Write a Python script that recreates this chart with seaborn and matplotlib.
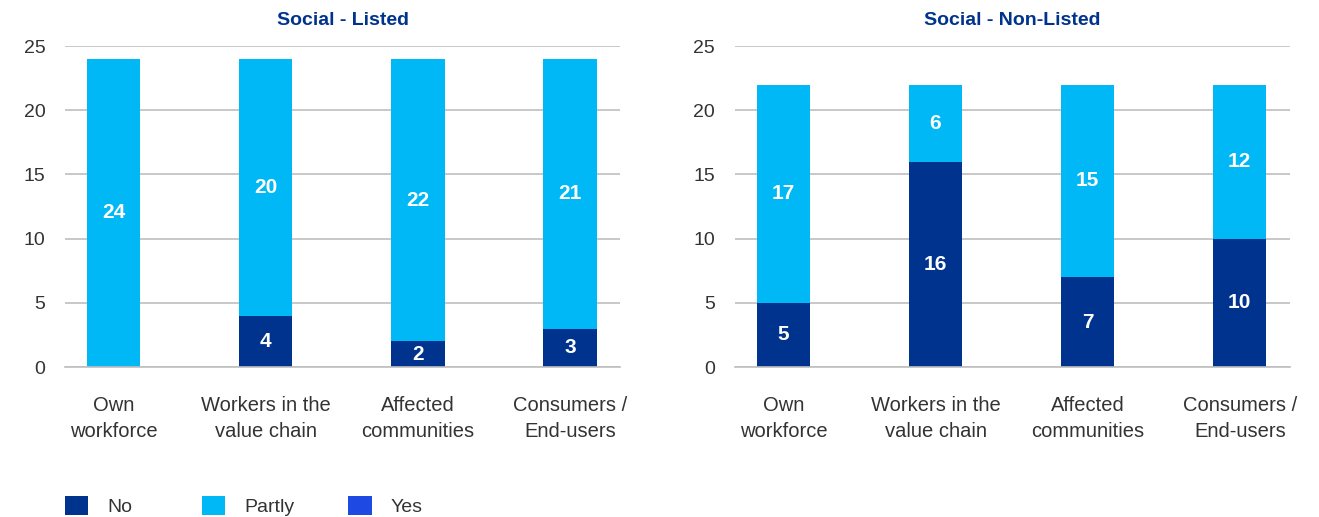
import matplotlib
matplotlib.use("Agg")
import matplotlib.pyplot as plt
from matplotlib.patches import Patch
import seaborn as sns
import pandas as pd

categories = ["Own\nworkforce", "Workers in the\nvalue chain", "Affected\ncommunities", "Consumers /\nEnd-users"]
listed_no = [0, 4, 2, 3]
listed_partly = [24, 20, 22, 21]
listed_yes = [0, 0, 0, 0]
nonlisted_no = [5, 16, 7, 10]
nonlisted_partly = [17, 6, 15, 12]
nonlisted_yes = [0, 0, 0, 0]
titles = ["Social - Listed", "Social - Non-Listed"]
series_names = ["No", "Partly", "Yes"]

C_NO = "#00338D"
C_PARTLY = "#00B8F5"
C_YES = "#1E49E2"
TITLE_C = "#00338D"
TEXT_C = "#333333"
GRID_C = "#BFBFBF"

sns.set_theme(style="white")
plt.rcParams["font.family"] = ["Liberation Sans", "DejaVu Sans"]

fig = plt.figure(figsize=(13.19, 5.17), dpi=100)
ax_l = fig.add_axes([0.0493, 0.290, 0.421, 0.621])
ax_r = fig.add_axes([0.557, 0.290, 0.421, 0.621])

panels = [
    (ax_l, listed_no, listed_partly, listed_yes, titles[0]),
    (ax_r, nonlisted_no, nonlisted_partly, nonlisted_yes, titles[1]),
]

for ax, no, partly, yes, title in panels:
    df = pd.DataFrame({
        "cat": categories,
        "no": no,
        "partly": partly,
        "yes": yes,
    })
    df["cum_partly"] = df["no"] + df["partly"]
    df["cum_yes"] = df["cum_partly"] + df["yes"]
    ax.set_axisbelow(True)
    ax.yaxis.grid(True, color=GRID_C, linewidth=1.2)
    # stacked bars: draw cumulative totals from the top layer down
    for col, color in [("cum_yes", C_YES), ("cum_partly", C_PARTLY), ("no", C_NO)]:
        sns.barplot(data=df, x="cat", y=col, color=color, width=0.35,
                    saturation=1, ax=ax, errorbar=None, linewidth=0, zorder=2)
    # segment value labels
    for i in range(len(categories)):
        for val, base in [(no[i], 0), (partly[i], no[i]), (yes[i], no[i] + partly[i])]:
            if val > 0:
                ax.text(i, base + val / 2, f"{val}", ha="center", va="center",
                        color="white", fontsize=15, fontweight="bold", zorder=3)
    ax.set_ylim(0, 25)
    ax.set_yticks([0, 5, 10, 15, 20, 25])
    ax.set_xlim(-0.32, 3.33)
    ax.set_xlabel("")
    ax.set_ylabel("")
    ax.tick_params(axis="x", length=0, pad=21, labelsize=14.5, labelcolor=TEXT_C)
    ax.tick_params(axis="y", length=0, pad=14, labelsize=14, labelcolor=TEXT_C)
    for lbl in ax.get_xticklabels():
        lbl.set_linespacing(1.45)
    for s in ["top", "right", "left"]:
        ax.spines[s].set_visible(False)
    ax.spines["bottom"].set_color(GRID_C)
    ax.spines["bottom"].set_linewidth(1.2)
    ax.set_title(title, color=TITLE_C, fontsize=14, fontweight="bold", pad=15)

# legend entries placed at fixed positions along the bottom edge
legend_x = [0.0493, 0.153, 0.264]
for name, color, x in zip(series_names, (C_NO, C_PARTLY, C_YES), legend_x):
    leg = fig.legend([Patch(facecolor=color, edgecolor="none")], [name],
                     loc="center left", bbox_to_anchor=(x, 0.021),
                     frameon=False, fontsize=14, handlelength=1.2, handleheight=1.15,
                     handletextpad=1.0, borderpad=0, borderaxespad=0)
    for t in leg.get_texts():
        t.set_color(TEXT_C)

fig.savefig("out.png", dpi=100)
